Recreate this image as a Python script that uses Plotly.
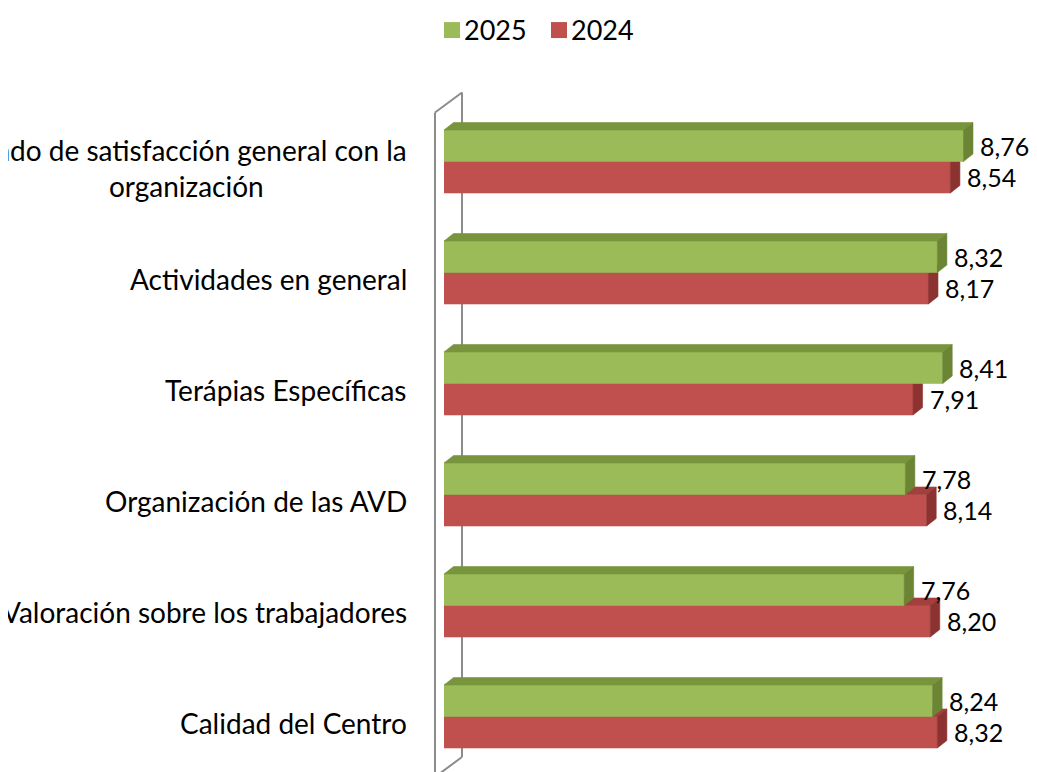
import plotly.graph_objects as go

# ---------------- data ----------------
categories = [
    "Grado de satisfacción general con la<br>organización",
    "Actividades en general",
    "Terápias Específicas",
    "Organización de las AVD",
    "Valoración sobre los trabajadores",
    "Calidad del Centro",
]
values_2025 = [8.76, 8.32, 8.41, 7.78, 7.76, 8.24]
values_2024 = [8.54, 8.17, 7.91, 8.14, 8.20, 8.32]
series_names = ["2025", "2024"]

# ---------------- style / layout constants ----------------
PAGE_OFF = 8                      # default body margin of the html page
W, H = 1037 - PAGE_OFF, 772 - PAGE_OFF
# desired screen positions (px), converted to figure coordinates
ML = 444 - PAGE_OFF
MT = 105.5 - PAGE_OFF
MR, MB = 0, 0
X_MAX = 10.0
plot_w = W - ML - MR
plot_h = H - MT - MB
n = len(categories)
px_x = plot_w / X_MAX          # pixels per x unit
px_y = plot_h / n              # pixels per category

BAR_PX = 31.5                  # bar thickness in px
DEPTH_X_PX = 9.5               # 3D depth offset (px)
DEPTH_Y_PX = 7.5
FONT = "Lato"
FS_VAL = 25
FS_CAT = 28
FS_LEG = 27

colors = {
    "2025": {"front": "#9BBB59", "top": "#78953D", "side": "#6B8535"},
    "2024": {"front": "#C0504D", "top": "#A3403D", "side": "#8C3331"},
}

h = BAR_PX / px_y
dx = DEPTH_X_PX / px_x
dy = DEPTH_Y_PX / px_y        # y axis reversed -> "up" on screen = smaller y


def fmt(v):
    return f"{v:.2f}".replace(".", ",")


def px2paper_x(sx):
    """screen x (px) -> paper x"""
    return (sx - PAGE_OFF - ML) / plot_w


def px2paper_y(sy):
    """screen y (px) -> paper y"""
    return (H - MB - (sy - PAGE_OFF)) / plot_h


fig = go.Figure()


def add_poly(xs, ys, color):
    fig.add_trace(go.Scatter(
        x=xs + [xs[0]], y=ys + [ys[0]], mode="lines", fill="toself",
        fillcolor=color, line=dict(color=color, width=0.6),
        hoverinfo="skip", showlegend=False,
    ))


def add_bar3d(v, yt, yb, c):
    # front face
    add_poly([0, v, v, 0], [yt, yt, yb, yb], c["front"])
    # top face
    add_poly([0, dx, v + dx, v], [yt, yt - dy, yt - dy, yt], c["top"])
    # side face
    add_poly([v, v + dx, v + dx, v], [yt, yt - dy, yb - dy, yb], c["side"])


annotations = []
# draw lower series (2024) first, then upper series (2025)
for i in range(n):
    add_bar3d(values_2024[i], i, i + h, colors["2024"])
for i in range(n):
    add_bar3d(values_2025[i], i - h, i, colors["2025"])

for i in range(n):
    for name, vals, yc in (("2025", values_2025, i - h / 2), ("2024", values_2024, i + h / 2)):
        annotations.append(dict(
            x=vals[i] + dx, y=yc, xref="x", yref="y", text=fmt(vals[i]),
            showarrow=False, xanchor="left", yanchor="middle", xshift=5, yshift=0,
            font=dict(family=FONT, size=FS_VAL, color="#000000"),
        ))
    annotations.append(dict(
        x=px2paper_x(409), y=i, xref="paper", yref="y", text=categories[i],
        showarrow=False, xanchor="right", yanchor="middle", align="center", yshift=-6,
        font=dict(family=FONT, size=FS_CAT, color="#000000"),
    ))

# manual legend (squares + labels)
shapes = []
legend_items = [("2025", 444, 462), ("2024", 551, 569)]
for name, sq_x, tx in legend_items:
    shapes.append(dict(
        type="rect", xref="paper", yref="paper",
        x0=px2paper_x(sq_x), x1=px2paper_x(sq_x + 16),
        y0=px2paper_y(37.5), y1=px2paper_y(21.5),
        fillcolor=colors[name]["front"], line=dict(width=0),
    ))
    annotations.append(dict(
        x=px2paper_x(tx), y=px2paper_y(29), xref="paper", yref="paper", text=name,
        showarrow=False, xanchor="left", yanchor="middle",
        font=dict(family=FONT, size=FS_LEG, color="#000000"),
    ))

# side wall of the 3D chart (vertical axis wall)
wall_color = "#8C8C8C"
wf, wb = px2paper_x(435), px2paper_x(462)
for seg in [
    (wf, px2paper_y(112), wf, px2paper_y(790)),
    (wb, px2paper_y(92), wb, px2paper_y(757)),
    (wf, px2paper_y(112), wb, px2paper_y(92)),
    (wb, px2paper_y(757), wf, px2paper_y(777)),
]:
    shapes.append(dict(type="line", xref="paper", yref="paper",
                       x0=seg[0], y0=seg[1], x1=seg[2], y1=seg[3],
                       line=dict(color=wall_color, width=2), layer="below"))

fig.update_layout(
    width=W, height=H,
    margin=dict(l=ML, r=MR, t=MT, b=MB, pad=0),
    paper_bgcolor="white", plot_bgcolor="rgba(0,0,0,0)",
    showlegend=False,
    xaxis=dict(range=[0, X_MAX], visible=False, fixedrange=True),
    yaxis=dict(range=[n - 0.5, -0.5], visible=False, fixedrange=True),
    annotations=annotations, shapes=shapes,
    font=dict(family=FONT, size=FS_VAL, color="#000000"),
)

fig.write_html("out.html")
